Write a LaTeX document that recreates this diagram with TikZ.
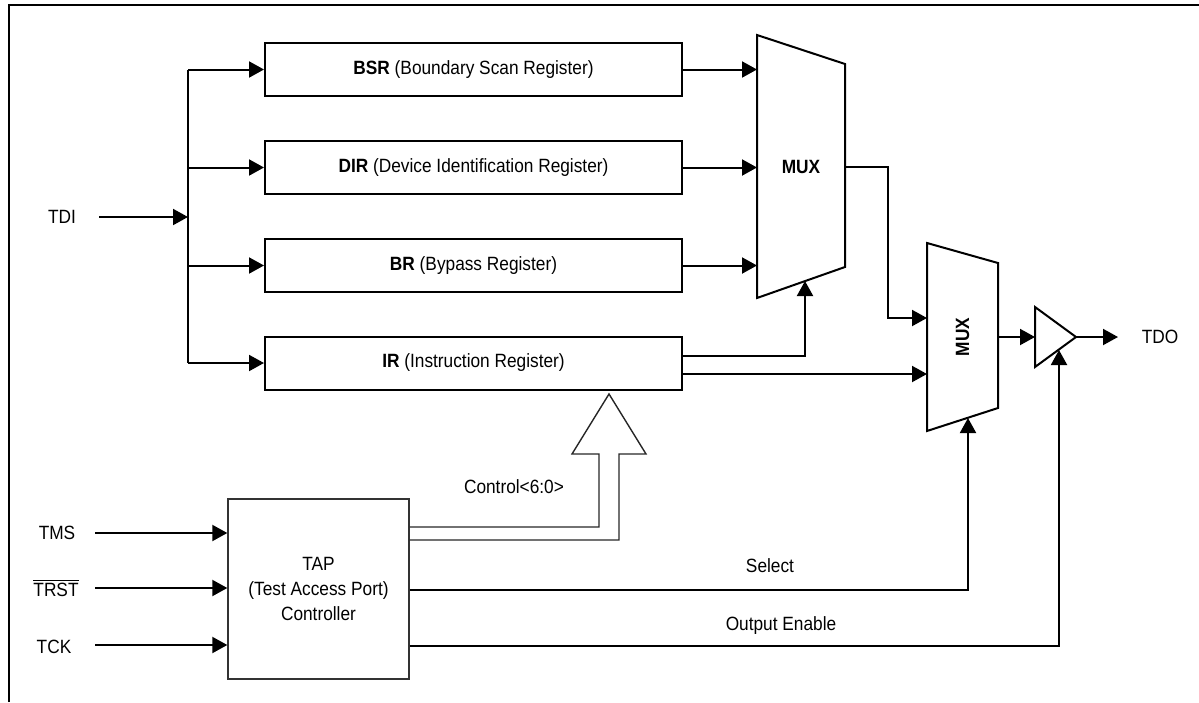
\documentclass[tikz,border=0pt]{standalone}
\usepackage{fontspec}
\setmainfont[FakeStretch=0.9]{Liberation Sans}
\usepackage{tikz}
\usetikzlibrary{arrows.meta,positioning,calc}

\begin{document}
\begin{tikzpicture}[
    x=0.5pt,y=-0.5pt,
    font=\fontsize{9.6}{12.5}\selectfont,
    reg/.style    = {draw, line width=1pt, minimum width=208.5pt,
                     minimum height=26.5pt, inner sep=0pt},
    ctrl/.style   = {draw=black!80, line width=0.7pt, minimum width=90.5pt,
                     minimum height=90pt, inner sep=0pt, align=center},
    wire/.style   = {line width=1pt},
    arr/.style    = {-{Triangle[length=7.5pt,width=8pt]}, line width=1pt},
    blk/.style    = {line width=1pt, line join=miter},
    pin/.style    = {inner sep=1pt},
    sig/.style    = {inner sep=1pt},
  ]
  \useasboundingbox (0,0) rectangle (1199,702);

  % Frame
  \draw[line width=1pt] (9,702) -- (9,5) -- (1199,5);

  % Data registers
  \node[reg] (bsr) at (473.5, 69.5) {\textbf{BSR} (Boundary Scan Register)};
  \node[reg] (dir) at (473.5,167.5) {\textbf{DIR} (Device Identification Register)};
  \node[reg] (br)  at (473.5,265.5) {\textbf{BR} (Bypass Register)};
  \node[reg] (ir)  at (473.5,363)   {\textbf{IR} (Instruction Register)};

  % TDI fan-out
  \node[pin] (tdi) at (62,217) {TDI};
  \coordinate (bus) at (188,217);
  \draw[arr] (99,217) -- (bus);
  \draw[wire] (bsr.west -| bus) -- (ir.west -| bus);
  \foreach \r in {bsr,dir,br,ir}
    \draw[arr] (\r.west -| bus) -- (\r.west);

  % First MUX
  \coordinate (m1tl) at (757,35);
  \coordinate (m1tr) at (845,64);
  \coordinate (m1br) at (845,267);
  \coordinate (m1bl) at (757,298);
  \draw[blk] (m1tl) -- (m1tr) -- (m1br) -- (m1bl) -- cycle;
  \node[font=\fontsize{9.6}{12}\selectfont\bfseries] (mux1) at (801,167) {MUX};
  \coordinate (m1sel) at (805,281);
  \coordinate (m1out) at (845,167);
  \foreach \r in {bsr,dir,br}
    \draw[arr] (\r.east) -- (\r.east -| m1tl);

  % Second MUX
  \coordinate (m2tl) at (927,243);
  \coordinate (m2tr) at (998,263);
  \coordinate (m2br) at (998,408);
  \coordinate (m2bl) at (927,431);
  \draw[blk] (m2tl) -- (m2tr) -- (m2br) -- (m2bl) -- cycle;
  \node[font=\fontsize{9.6}{12}\selectfont\bfseries,rotate=90] (mux2) at (962.5,337) {MUX};
  \coordinate (m2in1) at (927,318);
  \coordinate (m2in2) at (927,374);
  \coordinate (m2sel) at (968,418);
  \coordinate (m2out) at (998,337);

  % Output buffer
  \coordinate (bufa) at (1035,307);
  \coordinate (bufo) at (1076,337);
  \coordinate (bufb) at (1035,367);
  \draw[blk] (bufa) -- (bufo) -- (bufb) -- cycle;
  \coordinate (bufen) at (1059,350);
  \node[pin] (tdo) at (1160,337) {TDO};

  \draw[arr] (m1out) -- (888,167) |- (m2in1);
  \coordinate (ir1) at (682,356);
  \coordinate (ir2) at (682,374);
  \draw[arr] (ir1) -| (m1sel);
  \draw[arr] (ir2) -- (m2in2);
  \draw[arr] (m2out) -- (m2out -| bufa);
  \draw[arr] (bufo) -- (1118,337);

  % TAP controller
  \node[ctrl] (tap) at (318.5,589) {TAP\\(Test Access Port)\\Controller};
  \node[pin] (tms)  at (57,533) {TMS};
  \node[pin] (trst) at (56,588) {$\overline{\mbox{TRST}}$};
  \node[pin] (tck)  at (54,647) {TCK};
  \draw[arr] (95,533) -- (tap.west |- tms);
  \draw[arr] (95,588) -- (tap.west |- trst);
  \draw[arr] (95,645) -- (tap.west |- 0,645);

  % Control bus (hollow arrow)
  \draw[draw=black!85, line width=0.7pt, line join=miter]
       (tap.east |- 0,527) -- (599,527) -- (599,454) -- (572,454) -- (609,394)
       -- (646,454) -- (619,454) -- (619,540) -- (tap.east |- 0,540);
  \node[sig] (ctl) at (514,487) {Control<6:0>};

  % Select and output enable
  \draw[arr] (tap.east |- 0,590) -| (m2sel);
  \node[sig] (sel) at (770,566) {Select};
  \draw[arr] (tap.east |- 0,646) -| (bufen);
  \node[sig] (oe) at (781,626) {Output Enable};

\end{tikzpicture}
\end{document}
